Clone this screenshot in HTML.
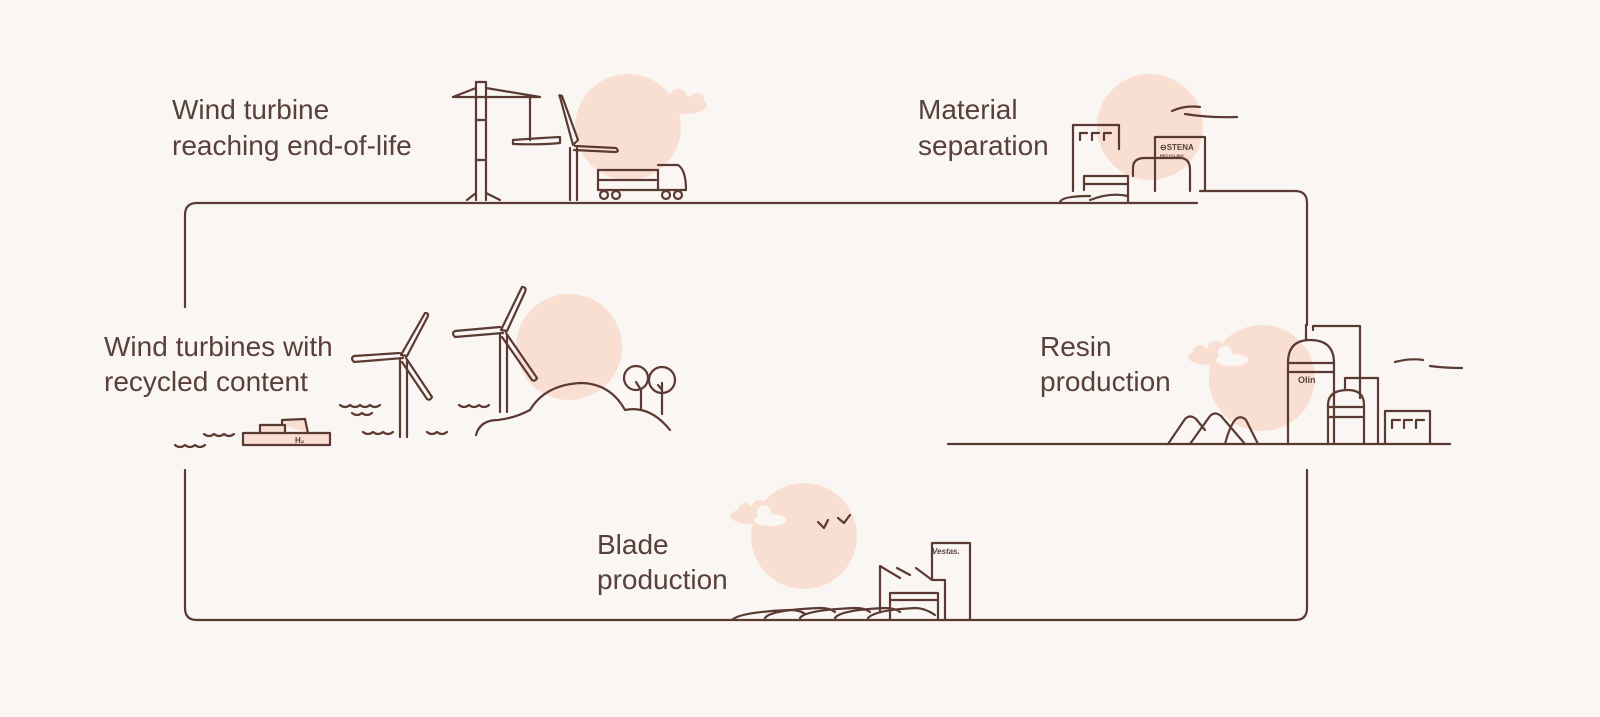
<!DOCTYPE html>
<html><head><meta charset="utf-8"><style>
html,body{margin:0;padding:0;background:#faf6f3;}
svg{display:block}
text{font-family:"Liberation Sans",sans-serif;font-size:28px;fill:#5a403a;}
</style></head><body>
<svg width="1600" height="717" viewBox="0 0 1600 717" xmlns="http://www.w3.org/2000/svg">
<rect width="1600" height="717" fill="#faf6f3"/>
<g fill="#f9dfd2">
<circle cx="628" cy="127" r="53"/>
<circle cx="1150" cy="127" r="53"/>
<circle cx="1262" cy="378" r="53"/>
<circle cx="569" cy="347" r="53"/>
<circle cx="804" cy="536" r="53"/>
</g>
<g fill="#f9dfd2">
<ellipse cx="685" cy="105" rx="22" ry="9"/><circle cx="678" cy="98" r="9"/><circle cx="697" cy="100" r="7"/>
<ellipse cx="1210" cy="357" rx="22" ry="8"/><circle cx="1200" cy="352" r="7"/><circle cx="1216" cy="350" r="9"/>
<ellipse cx="752" cy="516" rx="22" ry="8"/><circle cx="745" cy="510" r="7"/><circle cx="760" cy="509" r="9"/>
</g>
<g fill="#faf6f3" stroke="none">
<ellipse cx="1232" cy="360" rx="16" ry="6"/><circle cx="1225" cy="353" r="7"/>
<ellipse cx="770" cy="520" rx="16" ry="6"/><circle cx="764" cy="512" r="7"/>
</g>
<g fill="none" stroke="#5a3a33" stroke-width="2.2" stroke-linecap="round" stroke-linejoin="round">
<path d="M185 307 V215 Q185 203 197 203 H1197"/>
<path d="M1200 191 H1295 Q1307 191 1307 203 V325"/>
<path d="M185 470 V608 Q185 620 197 620 H1295 Q1307 620 1307 608 V470"/>
<path d="M948 444 H1450"/>
<path d="M476 82 V200 M486 82 V200 M476 82 H486 M453 97 L476 88 M486 88 L540 97 M453 97 H540 M530 97 V140 M467 200 L476 193 M486 193 L500 200 M476 120 H486 M476 160 H486"/>
<path d="M513 140 Q540 138 560 137 L560 143 Q540 145 513 144 Z"/>
<path d="M570 148 V200 M577 148 V200"/>
<path d="M573 145 L560 97 Q558 94 562 96 L578 140 Z M575 146 L616 148 Q620 152 615 152 L574 150"/>
<path d="M598 170 H658 V190 H598 Z M658 165 H678 Q686 170 686 190 H658 M598 180 H656"/>
<circle cx="604" cy="195" r="4"/><circle cx="616" cy="195" r="4"/><circle cx="666" cy="195" r="4"/><circle cx="678" cy="195" r="4"/>
<path d="M1073 191 V125 H1119 V149 M1080 133 V140 M1080 133 H1087 M1092 133 V140 M1092 133 H1099 M1104 133 V140 M1104 133 H1111"/>
<path d="M1084 176 H1128 V203 M1084 176 V190 M1084 184 H1128 M1090 200 Q1110 192 1128 196 M1060 202 Q1062 196 1090 196"/>
<path d="M1133 176 V168 Q1133 158 1145 158 H1180 Q1190 158 1190 170 V191"/>
<path d="M1155 191 V137 H1205 V191"/>
<path d="M1172 111 Q1185 105 1200 107 M1185 114 Q1210 118 1237 117"/>
<path d="M1288 444 V363 Q1288 340 1310 340 Q1334 340 1334 363 V444 M1288 372 H1334 M1288 363 H1334 M1306 340 V325 M1313 330 V326 H1360 V398 M1328 444 V405 Q1328 390 1348 390 Q1364 390 1364 405 V444 M1328 407 H1364 M1328 417 H1364 M1345 388 V378 H1378 V444 M1385 444 V411 H1430 V444 M1392 420 V428 M1392 420 H1400 M1404 420 V428 M1404 420 H1412 M1416 420 V428 M1416 420 H1424"/>
<path d="M1168 444 L1185 419 Q1190 414 1196 419 L1205 430 M1190 444 L1210 416 Q1215 411 1221 416 L1245 444 M1225 444 Q1230 425 1236 419 Q1241 415 1246 420 L1258 444"/>
<path d="M1395 362 Q1410 358 1423 360 M1430 366 Q1445 368 1462 368"/>
<path d="M400 360 V437 M407 360 V437"/>
<path d="M401 355 L425 313 Q430 313 427 318 L407 356 Z M403 358 L354 362 Q350 358 354 356 L400 353 M406 358 L432 397 Q430 401 427 399 L402 362"/>
<path d="M500 335 V412 M507 335 V412"/>
<path d="M501 330 L522 287 Q527 287 525 292 L507 331 Z M503 333 L455 337 Q451 333 455 331 L500 327 M506 333 L537 378 Q535 382 532 380 L502 337"/>
<path d="M476 435 Q480 420 498 420 Q515 418 530 410 Q545 385 580 383 Q610 383 625 410 Q650 405 670 430"/>
<circle cx="636" cy="378" r="12"/><circle cx="662" cy="380" r="13"/>
<path d="M641 390 V410 M662 393 V414 M636 382 L641 390 M662 383 V393 M658 385 L662 390"/>
<path d="M340 405 q5 4 10 0 q5 4 10 0 q5 4 10 0 q5 4 10 0 M352 413 q5 4 10 0 q5 4 10 0 M363 432 q5 4 10 0 q5 4 10 0 q5 4 10 0 M427 432 q5 4 10 0 q5 4 10 0 M459 405 q5 4 10 0 q5 4 10 0 q5 4 10 0 M204 434 q5 4 10 0 q5 4 10 0 q5 4 10 0 M175 445 q5 4 10 0 q5 4 10 0 q5 4 10 0"/>
<path d="M243 433 H330 V445 H243 Z M260 433 V425 H285 V433 M282 425 V420 L305 419 L308 433" fill="#f9dfd2"/>
<path d="M880 612 V566 L900 578 M897 568 L910 575 M916 568 L932 580 H945 V620 M932 580 V543 H970 V620"/>
<path d="M890 620 V593 H938 V620 M890 600 H938" />
<path d="M732 620 Q740 612 790 610 Q800 610 805 614 M765 618 Q770 610 820 608 Q830 608 835 612 M800 618 Q805 610 855 608 Q865 608 870 612 M835 618 Q840 610 885 608 Q895 608 900 612 M868 618 Q875 610 915 608 Q925 608 935 615"/>
<path d="M818 522 L824 528 L828 520 M838 518 L844 523 L850 515"/>
</g>
<g font-family="Liberation Sans" font-weight="bold" fill="#5a3a33">
<text x="1160" y="150" style="font-size:8px">⊖STENA</text>
<text x="1160" y="157" style="font-size:4px">RECYCLING</text>
<text x="1298" y="383" style="font-size:9px">Olin</text>
<text x="932" y="554" style="font-size:8px;font-style:italic">Vestas.</text>
<text x="295" y="443" style="font-size:8px">H₂</text>
</g>
<text x="172" y="119">Wind turbine</text>
<text x="172" y="155">reaching end-of-life</text>
<text x="918" y="119">Material</text>
<text x="918" y="155">separation</text>
<text x="104" y="356">Wind turbines with</text>
<text x="104" y="391">recycled content</text>
<text x="1040" y="356">Resin</text>
<text x="1040" y="391">production</text>
<text x="597" y="554">Blade</text>
<text x="597" y="589">production</text>
</svg>
</body></html>
